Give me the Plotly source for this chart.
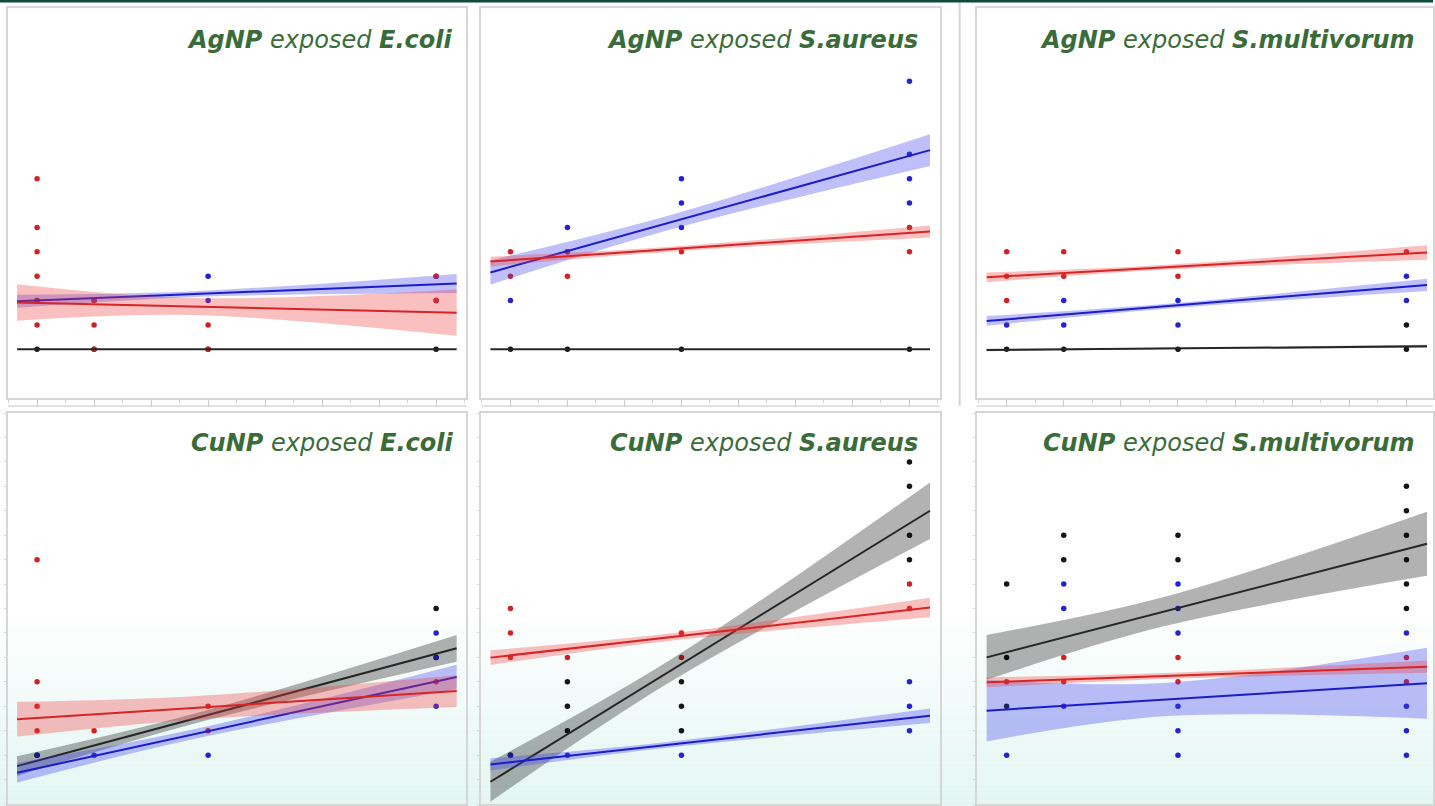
import plotly.graph_objects as go

W, H = 1435, 806

# Sampling days on the x axis and the span over which each fit is drawn
DAYS = [0, 1, 3, 7]
FIT_X = [-0.35, 2.75, 7.36]          # left end, centre, right end of every fit

GROUPS = ["black", "blue", "red"]

# ---------- observations: (x list, y list) per colour group ----------
AG_ECOLI_PTS = {
    "black": ([0, 1, 3, 7], [0, 0, 0, 0]),
    "blue": ([0, 1, 3, 3, 7, 7], [2, 2, 3, 2, 3, 2]),
    "red": ([0, 0, 0, 0, 0, 0, 1, 1, 1, 3, 3, 7, 7],
            [7, 5, 4, 3, 2, 1, 2, 1, 0, 1, 0, 3, 2]),
}
AG_SAUREUS_PTS = {
    "black": ([0, 1, 3, 7], [0, 0, 0, 0]),
    "blue": ([0, 1, 1, 3, 3, 3, 7, 7, 7, 7], [2, 5, 4, 7, 6, 5, 11, 8, 7, 6]),
    "red": ([0, 0, 1, 1, 3, 7, 7], [4, 3, 4, 3, 4, 5, 4]),
}
AG_SMULTI_PTS = {
    "black": ([0, 1, 3, 7, 7], [0, 0, 0, 0, 1]),
    "blue": ([0, 1, 1, 3, 3, 7, 7], [1, 2, 1, 2, 1, 3, 2]),
    "red": ([0, 0, 0, 1, 1, 3, 3, 7], [4, 3, 2, 4, 3, 4, 3, 4]),
}
CU_ECOLI_PTS = {
    "black": ([0, 7, 7], [0, 6, 4]),
    "blue": ([0, 1, 3, 7, 7, 7], [0, 0, 0, 5, 4, 2]),
    "red": ([0, 0, 0, 0, 1, 3, 3, 7], [8, 3, 2, 1, 1, 2, 1, 3]),
}
CU_SAUREUS_PTS = {
    "black": ([0, 1, 1, 1, 3, 3, 3, 7, 7, 7, 7],
              [0, 3, 2, 1, 3, 2, 1, 12, 11, 9, 8]),
    "blue": ([0, 1, 3, 7, 7, 7], [0, 0, 0, 3, 2, 1]),
    "red": ([0, 0, 0, 1, 3, 3, 7, 7], [6, 5, 4, 4, 5, 4, 7, 6]),
}
CU_SMULTI_PTS = {
    "black": ([0, 0, 0, 1, 1, 3, 3, 7, 7, 7, 7, 7, 7],
              [7, 4, 2, 9, 8, 9, 8, 11, 10, 9, 8, 7, 6]),
    "blue": ([0, 1, 1, 1, 3, 3, 3, 3, 3, 3, 7, 7, 7, 7],
             [0, 7, 6, 2, 7, 6, 5, 2, 1, 0, 5, 2, 1, 0]),
    "red": ([0, 1, 1, 3, 3, 7, 7], [3, 4, 3, 4, 3, 4, 3]),
}

# ---------- linear fits: (value at left/right end, CI half-width at left/centre/right) ----------
AG_ECOLI_FIT = {
    "black": ([0.0, 0.0], [0.0, 0.0, 0.0]),
    "blue": ([1.97, 2.70], [0.27, 0.12, 0.39]),
    "red": ([1.92, 1.50], [0.75, 0.35, 0.95]),
}
AG_SAUREUS_FIT = {
    "black": ([0.0, 0.0], [0.0, 0.0, 0.0]),
    "blue": ([3.15, 8.17], [0.50, 0.30, 0.65]),
    "red": ([3.60, 4.83], [0.20, 0.10, 0.25]),
}
AG_SMULTI_FIT = {
    "black": ([-0.03, 0.12], [0.05, 0.03, 0.06]),
    "blue": ([1.16, 2.64], [0.20, 0.10, 0.25]),
    "red": ([2.95, 3.97], [0.20, 0.10, 0.30]),
}
CU_ECOLI_FIT = {
    "black": ([-0.45, 4.37], [0.40, 0.20, 0.55]),
    "blue": ([-0.72, 3.20], [0.40, 0.20, 0.50]),
    "red": ([1.47, 2.62], [0.71, 0.48, 0.65]),
}
CU_SAUREUS_FIT = {
    "black": ([-1.09, 10.0], [0.82, 0.45, 1.16]),
    "blue": ([-0.38, 1.61], [0.25, 0.12, 0.30]),
    "red": ([3.99, 6.04], [0.30, 0.15, 0.40]),
}
CU_SMULTI_FIT = {
    "black": ([4.00, 8.65], [0.92, 0.60, 1.31]),
    "blue": ([1.82, 2.94], [1.26, 0.68, 1.45]),
    "red": ([2.98, 3.62], [0.20, 0.12, 0.25]),
}

PARTICLES = ["AgNP", "AgNP", "AgNP", "CuNP", "CuNP", "CuNP"]
STRAINS = ["E.coli", "S.aureus", "S.multivorum", "E.coli", "S.aureus", "S.multivorum"]

PANEL_PTS = [AG_ECOLI_PTS, AG_SAUREUS_PTS, AG_SMULTI_PTS,
             CU_ECOLI_PTS, CU_SAUREUS_PTS, CU_SMULTI_PTS]
PANEL_FITS = [AG_ECOLI_FIT, AG_SAUREUS_FIT, AG_SMULTI_FIT,
              CU_ECOLI_FIT, CU_SAUREUS_FIT, CU_SMULTI_FIT]

# ---------- styling ----------
POINT_COLOR = {"black": "#151515", "blue": "#2323d2", "red": "#d42020"}
LINE_COLOR = {"black": "#262626", "blue": "#1c1cc8", "red": "#d82424"}
BAND_COLOR = {"black": "rgba(0,0,0,0.30)",
              "blue": "rgba(60,60,240,0.33)",
              "red": "rgba(240,60,60,0.33)"}
TITLE_GREEN = "#3a6c3a"

# panel boxes in pixels: (left, right) per column, (top, bottom) per row
COL_PX = [(8, 467), (482, 941), (978, 1435)]
ROW_PX = [(8, 398), (413, 804)]
X_RANGES = [[-0.51, 7.53], [-0.51, 7.53], [-0.525, 7.465]]
Y_RANGE = [-2, 14]
TITLE_RIGHT_PX = [456, 921, 1419]
TITLE_MID_PX = [40, 443]


def px_x(p):
    return p / W


def px_y(p):
    return 1 - p / H


fig = go.Figure()
layout = {}

for i in range(6):
    col, row = i % 3, i // 3
    n = i + 1
    xa = "x" if n == 1 else f"x{n}"
    ya = "y" if n == 1 else f"y{n}"

    pts = PANEL_PTS[i]
    fits = PANEL_FITS[i]

    # scatter of observations
    for g in GROUPS:
        xs, ys = pts[g]
        fig.add_trace(go.Scatter(
            x=xs, y=ys, mode="markers", xaxis=xa, yaxis=ya,
            marker=dict(size=5.5, color=POINT_COLOR[g]),
            showlegend=False, hoverinfo="skip"))

    # regression ribbon + line per group
    for g in GROUPS:
        ends, hw = fits[g]
        slope = (ends[1] - ends[0]) / (FIT_X[2] - FIT_X[0])
        centre = [ends[0] + slope * (xv - FIT_X[0]) for xv in FIT_X]
        if max(hw) > 0:
            lower = [c - h for c, h in zip(centre, hw)]
            upper = [c + h for c, h in zip(centre, hw)]
            fig.add_trace(go.Scatter(
                x=FIT_X, y=lower, mode="lines", xaxis=xa, yaxis=ya,
                line=dict(width=0, shape="spline", color=BAND_COLOR[g]),
                showlegend=False, hoverinfo="skip"))
            fig.add_trace(go.Scatter(
                x=FIT_X, y=upper, mode="lines", xaxis=xa, yaxis=ya,
                line=dict(width=0, shape="spline", color=BAND_COLOR[g]),
                fill="tonexty", fillcolor=BAND_COLOR[g],
                showlegend=False, hoverinfo="skip"))
        fig.add_trace(go.Scatter(
            x=[FIT_X[0], FIT_X[2]], y=ends, mode="lines", xaxis=xa, yaxis=ya,
            line=dict(width=2, color=LINE_COLOR[g]),
            showlegend=False, hoverinfo="skip"))

    l, r = COL_PX[col]
    t, b = ROW_PX[row]
    xkey = "xaxis" if n == 1 else f"xaxis{n}"
    ykey = "yaxis" if n == 1 else f"yaxis{n}"
    xaxis = dict(domain=[px_x(l), px_x(r)], range=X_RANGES[col], anchor=ya,
                 showgrid=False, zeroline=False, showticklabels=False,
                 showline=True, mirror=True, linecolor="#d6d6d6", linewidth=2,
                 fixedrange=True)
    if row == 0:
        xaxis.update(ticks="outside", tick0=0, dtick=1, ticklen=7,
                     tickcolor="#cbcbcb", tickwidth=1,
                     minor=dict(ticks="outside", dtick=0.5, ticklen=3,
                                tickcolor="#d2d2d2", tickwidth=1))
    else:
        xaxis.update(ticks="")
    yaxis = dict(domain=[px_y(b), px_y(t)], range=Y_RANGE, anchor=xa,
                 showgrid=False, zeroline=False, showticklabels=False,
                 showline=True, mirror=True, linecolor="#d6d6d6", linewidth=2,
                 fixedrange=True)
    if row == 1:
        yaxis.update(ticks="outside", tick0=0, dtick=1, ticklen=2,
                     tickcolor="#d4d4d4", tickwidth=1)
    else:
        yaxis.update(ticks="")
    layout[xkey] = xaxis
    layout[ykey] = yaxis

# panel titles
annotations = []
for i in range(6):
    col, row = i % 3, i // 3
    annotations.append(dict(
        xref="paper", yref="paper",
        x=px_x(TITLE_RIGHT_PX[col]), y=px_y(TITLE_MID_PX[row]),
        xanchor="right", yanchor="middle", showarrow=False,
        text=f"<b><i>{PARTICLES[i]}</i></b><i> exposed </i><b><i>{STRAINS[i]}</i></b>",
        font=dict(family="DejaVu Sans, Liberation Sans, Arial, sans-serif", size=24,
                  color=TITLE_GREEN)))

# page decoration: soft teal wash at the bottom, dark rule at the top, separators
shapes = []
grad_top, grad_bottom = 610, H
steps = 36
end_rgb = (226, 246, 242)
for k in range(steps):
    y0 = grad_top + (grad_bottom - grad_top) * k / steps
    y1 = grad_top + (grad_bottom - grad_top) * (k + 1) / steps
    f = (k + 0.5) / steps
    c = tuple(round(255 + (e - 255) * f) for e in end_rgb)
    shapes.append(dict(type="rect", xref="paper", yref="paper", layer="below",
                       x0=0, x1=1, y0=px_y(y1), y1=px_y(y0),
                       fillcolor=f"rgb{c}", line=dict(width=0)))
shapes.append(dict(type="rect", xref="paper", yref="paper", layer="above",
                   x0=0, x1=1, y0=px_y(2.5), y1=1,
                   fillcolor="#0f4b3d", line=dict(width=0)))
shapes.append(dict(type="line", xref="paper", yref="paper", layer="below",
                   x0=px_x(961), x1=px_x(961), y0=px_y(406), y1=px_y(2.5),
                   line=dict(color="#d6d6d6", width=2)))
for l, r in COL_PX:
    shapes.append(dict(type="line", xref="paper", yref="paper", layer="below",
                       x0=px_x(l), x1=px_x(r), y0=px_y(406), y1=px_y(406),
                       line=dict(color="#d9d9d9", width=1.5)))

fig.update_layout(
    width=W, height=H,
    margin=dict(l=0, r=0, t=0, b=0),
    paper_bgcolor="white",
    plot_bgcolor="rgba(0,0,0,0)",
    showlegend=False,
    annotations=annotations,
    shapes=shapes,
    **layout,
)

fig.write_html("out.html", config={"displayModeBar": False})
